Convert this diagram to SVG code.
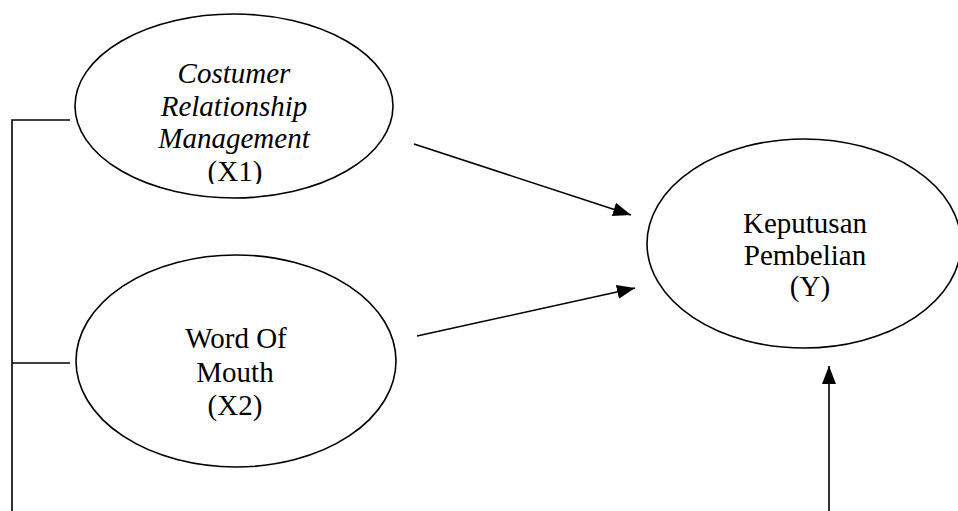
<svg xmlns="http://www.w3.org/2000/svg" width="958" height="511" viewBox="0 0 958 511">
<style>
.node ellipse{fill:#fff;stroke:#000;stroke-width:1.6}
.t{font-family:"Liberation Serif","Times New Roman",serif;font-size:29px;fill:#000;text-anchor:middle}
.it{font-style:italic}
.c line,.c polyline{stroke:#000;stroke-width:1.6;fill:none}
</style>
<defs>
<marker id="ah" viewBox="0 0 18 14" refX="18" refY="7" markerWidth="18" markerHeight="14" markerUnits="userSpaceOnUse" orient="auto">
<polygon points="0,0 18,7 0,14" fill="#000"/>
</marker>
<clipPath id="clipX1"><rect x="0" y="0" width="958" height="184"/></clipPath>
</defs>
<rect width="958" height="511" fill="#fff"/>
<g id="connectors" class="c">
<polyline points="70,120 12,120 12,511"/>
<line x1="12" y1="363" x2="70" y2="363"/>
<line x1="414" y1="144" x2="631" y2="215" marker-end="url(#ah)"/>
<line x1="417" y1="336" x2="635" y2="288" marker-end="url(#ah)"/>
<line x1="829" y1="511" x2="829" y2="366" marker-end="url(#ah)"/>
</g>
<g id="x1" class="node">
<ellipse cx="234" cy="106" rx="159" ry="92"/>
<text class="t it" x="234" y="83">Costumer</text>
<text class="t it" x="234" y="116">Relationship</text>
<text class="t it" x="234" y="148">Management</text>
<text class="t" x="235" y="181" clip-path="url(#clipX1)">(X1)</text>
</g>
<g id="x2" class="node">
<ellipse cx="236" cy="361" rx="160" ry="106"/>
<text class="t" x="236" y="348">Word Of</text>
<text class="t" x="235" y="382">Mouth</text>
<text class="t" x="235" y="415">(X2)</text>
</g>
<g id="y" class="node">
<ellipse cx="804" cy="243.5" rx="157" ry="104.5"/>
<text class="t" x="805" y="233">Keputusan</text>
<text class="t" x="805" y="265">Pembelian</text>
<text class="t" x="810" y="296">(Y)</text>
</g>
</svg>
